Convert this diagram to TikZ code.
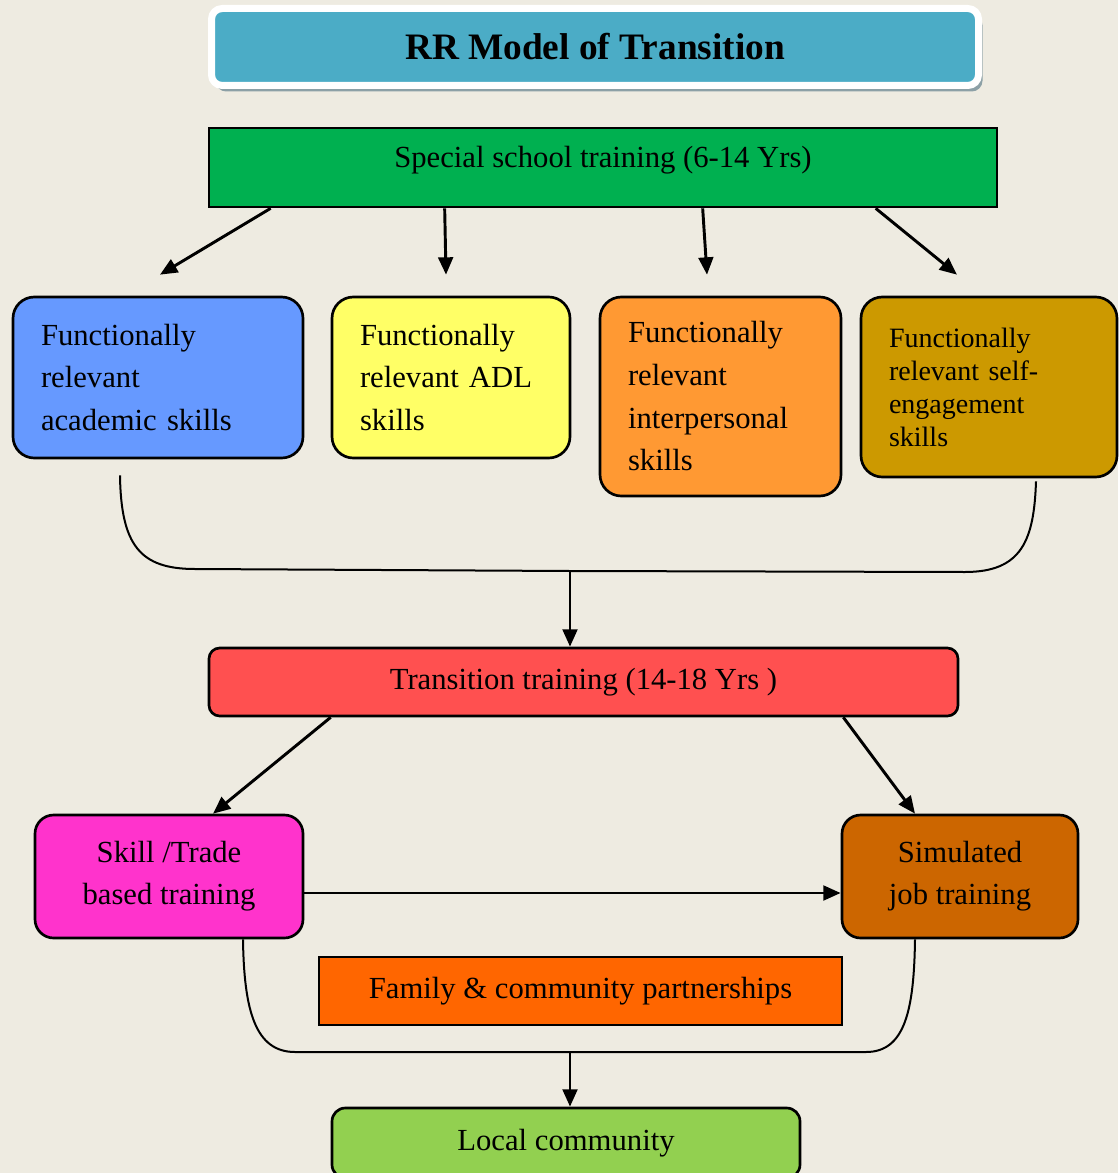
\documentclass[tikz,border=0pt]{standalone}
\usepackage{fontspec}
\setmainfont{Liberation Serif}
\usetikzlibrary{arrows.meta,calc,shadows}

\definecolor{paper}{RGB}{238,235,225}
\definecolor{titleblue}{RGB}{75,172,198}
\definecolor{titleshade}{RGB}{140,160,166}
\definecolor{schoolgreen}{RGB}{0,176,80}
\definecolor{acadblue}{RGB}{102,153,255}
\definecolor{adlyellow}{RGB}{255,255,102}
\definecolor{interorange}{RGB}{255,153,51}
\definecolor{selfgold}{RGB}{204,153,0}
\definecolor{transred}{RGB}{255,80,80}
\definecolor{trademagenta}{RGB}{255,51,204}
\definecolor{simbrown}{RGB}{204,102,0}
\definecolor{familyorange}{RGB}{255,102,0}
\definecolor{localgreen}{RGB}{146,208,80}

\begin{document}
\begin{tikzpicture}[x=0.75pt,y=-0.75pt,
  box/.style={draw=black, line width=2pt, inner sep=0pt,
    font=\fontsize{23}{32}\selectfont},
  skillbox/.style={box, rounded corners=16pt, align=left},
  arr/.style={-{Triangle[length=13pt,width=11pt]}, line width=2.2pt},
  bracket/.style={line width=1.5pt}]

\path[use as bounding box, fill=paper] (0,0) rectangle (1118,1173);

% heading banner
\node[fill=titleblue, draw=white, line width=5.25pt, rounded corners=8pt,
  minimum width=575.25pt, minimum height=57.75pt,
  drop shadow={shadow xshift=3pt, shadow yshift=-4.5pt, fill=titleshade, opacity=1},
  font=\fontsize{28}{30}\selectfont\bfseries] (title) at (595,47) {RR Model of Transition};

% first stage
\node[box, fill=schoolgreen, minimum width=591pt, minimum height=59.25pt,
  text height=8pt, text depth=8pt] (special) at (603,167.5)
  {Special school training (6-14 Yrs)};

% skill areas
\node[skillbox, fill=acadblue, minimum width=217.5pt, minimum height=120.75pt,
  text width=175.5pt] (acad) at (158,377.5)
  {Functionally\\relevant\\academic skills};
\node[skillbox, fill=adlyellow, minimum width=178.5pt, minimum height=120.75pt,
  text width=136.5pt] (adl) at (451,377.5)
  {Functionally\\relevant ADL\\skills};
\node[skillbox, fill=interorange, minimum width=180.75pt, minimum height=149.25pt,
  text width=138.75pt] (inter) at (720.5,396.5)
  {Functionally\\relevant\\interpersonal\\skills};
\node[skillbox, fill=selfgold, minimum width=192pt, minimum height=135pt,
  text width=150pt, font=\fontsize{21}{24.75}\selectfont] (self) at (989,387)
  {Functionally\\relevant self-\\engagement\\skills\par\vspace{15pt}};

% second stage
\node[box, fill=transred, rounded corners=8pt, minimum width=561.75pt,
  minimum height=51pt] (trans) at (583.5,682)
  {Transition training (14-18 Yrs )};

\node[box, fill=trademagenta, rounded corners=14pt, align=center,
  minimum width=201pt, minimum height=92.25pt,
  font=\fontsize{23}{31.5}\selectfont] (trade) at (169,876.5)
  {Skill /Trade\\based training};
\node[box, fill=simbrown, rounded corners=14pt, align=center,
  minimum width=177pt, minimum height=92.25pt,
  font=\fontsize{23}{31.5}\selectfont] (sim) at (960,876.5)
  {Simulated\\job training};

\node[box, fill=familyorange, minimum width=392.25pt, minimum height=51pt]
  (family) at (580.5,991) {Family \& community partnerships};

\node[box, fill=localgreen, rounded corners=10pt, minimum width=351pt,
  minimum height=52.5pt] (local) at (566,1143) {Local community};

% arrows from the first stage
\draw[arr] ($(special.south west)+(63,0)$) -- ($(acad.north)+(2,-21)$);
\draw[arr] ($(special.south west)+(237,0)$) -- ($(adl.north)+(-5,-21)$);
\draw[arr] ($(special.south west)+(495,0)$) -- ($(inter.north)+(-13.5,-21)$);
\draw[arr] ($(special.south west)+(668,0)$) -- ($(self.north)+(-32,-21)$);

% skill areas merge
\coordinate (join1) at (570,571);
\draw[bracket] ($(acad.south)+(-38,16)$) .. controls +(1,70) and (140,569) .. (195,569)
  -- (join1) -- (965,572) .. controls (1022,572) and (1034,540) .. ($(self.south)+(47,3)$);
\draw[arr] (join1) -- ($(trans.north)+(-13.5,0)$);

% second stage branches
\draw[arr] ($(trans.south west)+(123,0)$) -- ($(trade.north)+(44,0)$);
\draw[arr] ($(trans.south east)+(-116,0)$) -- ($(sim.north)+(-45,0)$);
\draw[arr] ($(trade.east)+(0,16.5)$) -- ($(sim.west)+(0,16.5)$);

% training routes merge
\coordinate (join2) at (570,1052);
\draw[bracket] ($(trade.south)+(74,0)$) .. controls (244,1010) and (255,1052) .. (295,1052)
  -- (join2) -- (866,1052) .. controls (905,1052) and (914,1010) .. ($(sim.south)+(-45,0)$);
\draw[arr] (join2) -- ($(local.north)+(4,0)$);

\end{tikzpicture}
\end{document}
